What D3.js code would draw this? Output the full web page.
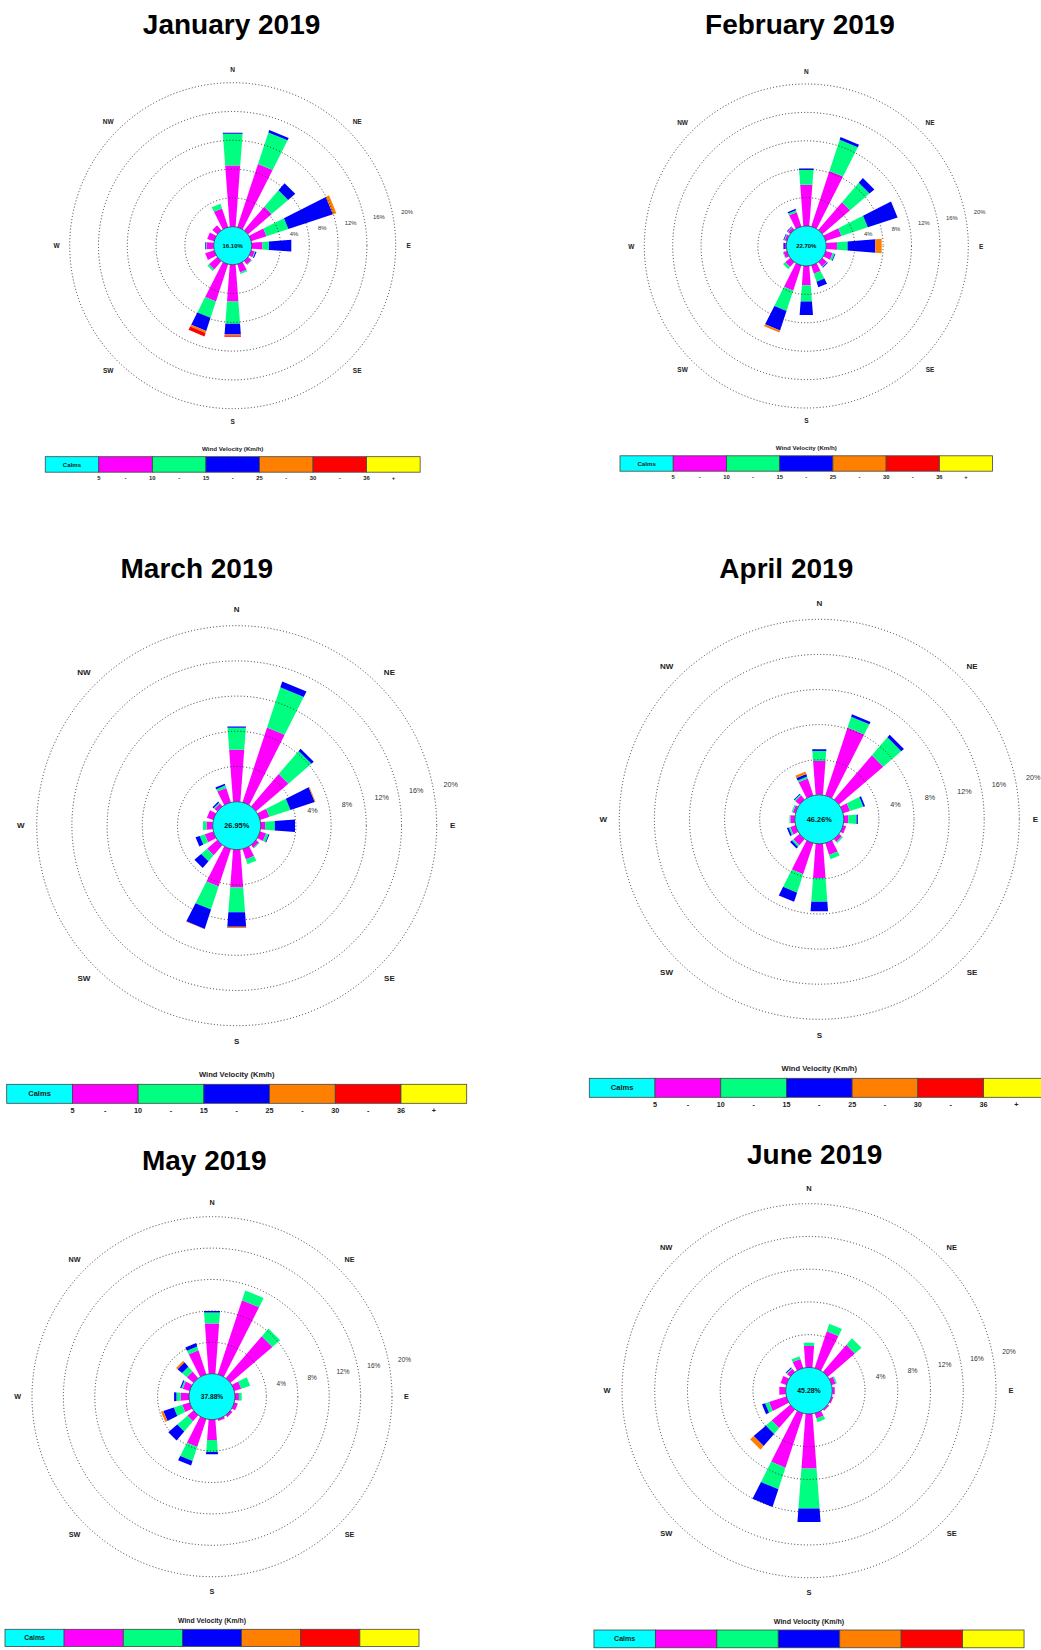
<!DOCTYPE html>
<html><head><meta charset="utf-8">
<script src="https://cdn.jsdelivr.net/npm/d3@7"></script>
<style>body{margin:0;background:#fff;} text{font-family:"Liberation Sans",Arial,sans-serif;}</style>
</head><body><svg id="chart" width="1041" height="1650"></svg>
<script>
// ---------- DATA ----------
const directions = ["N","NNE","NE","ENE","E","ESE","SE","SSE","S","SSW","SW","WSW","W","WNW","NW","NNW"];
const speedClasses = ["5 - 10","10 - 15","15 - 25","25 - 30","30 - 36","36 +"];
const legendTickLabels = ["5","-","10","-","15","-","25","-","30","-","36","+"];
const ringTicks = [4, 8, 12, 16, 20];
const compassLabels = ["N","NE","E","SE","S","SW","W","NW"];
const monthTitles = ["January 2019","February 2019","March 2019","April 2019","May 2019","June 2019"];
const calmPercents = [16.10, 22.70, 26.95, 46.26, 37.88, 45.28];

// per direction: frequency (%) of each speed class [5-10, 10-15, 15-25, 25-30, 30-36, 36+]
const jan2019 = [[8.5,4.4,0.15],[9.2,4.6,0.35],[4.3,3.0,1.3],[2.2,3.2,6.5,0.5],[1.5,0.9,3.1],[0.5,0.1,0.15],[0.6,0.1],[1.2,0.2],
  [5.1,3.1,1.5,0.15,0.15],[5.4,2.4,1.9,0.3,0.5],[1.5,0.3],[1.3],[1.0,0.1,0.1],[1.0],[0.9],[2.7,0.7]];
const feb2019 = [[5.8,2.1,0.2],[8.2,4.6,0.4],[5.1,3.6,0.9],[2.3,3.9,4.4],[1.5,1.5,3.9,0.9],[1.0,0.3,0.1],[0.8,0.1,0.1],[1.2,1.2,0.8],
  [2.7,2.3,1.9],[3.7,3.0,2.9,0.3],[0.9,0.4],[0.5,0.1],[0.2,0,0.2],[0.3,0.1,0.1],[0.4,0.1,0.1],[2.1,0.3,0.2]];
const mar2019 = [[5.9,2.5,0.15],[8.9,4.8,0.7],[4.8,3.45,0.35],[1.1,2.5,2.9,0.1],[0.5,1.1,2.3],[0.7,0.3,0.1],[0.4,0.1],[1.2,0.6],
  [4.3,2.8,1.65,0.15],[4.45,2.75,2.3,0.05],[1.5,0.9,1.0],[1.0,0.6,0.5],[0.7,0.4],[0.75],[0.4,0.15,0.15],[1.7,0.3,0.2]];
const apr2019 = [[3.85,1.15,0.2],[8.1,1.3,0.3],[6.6,2.7,0.4],[0.8,1.6,0.2],[0.5,0.95,0.15],[0.35],[0.4,0.15],[1.4,0.5],
  [3.9,2.7,1.1],[3.7,2.2,1.1],[0.9,0.25,0.25],[0.6,0.2,0.2],[0.5,0.1],[0.3,0.15],[0.6,0.15,0.1],[2.0,0.25,0.3,0.3]];
const may2019 = [[6.4,1.4,0.2],[9.9,1.3],[7.0,1.3],[0.9,1.2],[0.5,0.35],[0.45],[0.3],[0.25],
  [2.6,1.5,0.3],[3.7,1.9,0.6],[1.0,1.7,1.5],[0.97,1.13,1.4,0.3],[1.06,0.54,0.3],[0.9,0.2,0.16],[1.1,0.8,0.76,0.24],[3.2,0.5,0.45]];
const jun2019 = [[2.6,0.4],[4.7,0.95],[4.35,1.05],[0.5,0.15],[0.3],[0.2],[0.2],[0.65,0.45],
  [6.65,4.9,1.65],[6.95,2.75,2.3],[2.97,0.93,1.96,0.57],[2.2,0.5,0.4],[0.78],[0.73],[0.5,0.12,0.1],[1.15,0.35]];
const monthData = [jan2019, feb2019, mar2019, apr2019, may2019, jun2019];

// ---------- STYLE / LAYOUT ----------
const classColors = ["#FF00FF","#00FF80","#0000FF","#FF8000","#FF0000","#FFFF00"];
const calmColor = "#00FFFF";
const panels = [
  {cx:232.7, cy:245.7, R:163, r0:19,   tx:231.6, ty:33.5, ly:456.7},
  {cx:806.3, cy:246,   R:162, r0:20,   tx:800,   ty:33.5, ly:455.8},
  {cx:236.7, cy:825.7, R:200, r0:24,   tx:196.8, ty:577.5, ly:1084.3},
  {cx:819.3, cy:819.3, R:200, r0:24.5, tx:786.3, ty:577.5, ly:1078.3},
  {cx:212,   cy:1396.7,R:180, r0:23,   tx:204.2, ty:1170, ly:1629.3},
  {cx:809,   cy:1390.7,R:187, r0:23.3, tx:814.7, ty:1164, ly:1630}
];

const svg = d3.select("#chart");
const H = 1650;
const rad = d => d * Math.PI / 180;

panels.forEach((P, m) => {
  const g = svg.append("g");
  const rScale = d3.scaleLinear().domain([0, 20]).range([P.r0, P.R]);
  const angle = d3.scalePoint().domain(directions).range([0, 360 - 22.5]);
  const f = P.R / 163;
  const width = r => 3 * f + 0.15 * r;

  // title
  g.append("text").attr("x", P.tx).attr("y", P.ty).attr("text-anchor", "middle")
    .attr("font-size", 28).attr("font-weight", "bold").attr("fill", "#000").text(monthTitles[m]);

  // petals
  const line = d3.line();
  const data = monthData[m];
  const segs = [];
  directions.forEach((dir, i) => {
    let cum = 0;
    (data[i] || []).forEach((v, c) => {
      if (v > 0) segs.push({dir, c, p1: cum, p2: cum + v});
      cum += v;
    });
  });
  g.append("g").selectAll("path").data(segs).join("path")
    .attr("d", s => {
      const a = rad(angle(s.dir));
      const ux = Math.sin(a), uy = -Math.cos(a), vx = Math.cos(a), vy = Math.sin(a);
      const r1 = rScale(s.p1), r2 = rScale(s.p2);
      const w1 = width(r1) / 2, w2 = width(r2) / 2;
      const pts = [
        [P.cx + r1 * ux - w1 * vx, P.cy + r1 * uy - w1 * vy],
        [P.cx + r2 * ux - w2 * vx, P.cy + r2 * uy - w2 * vy],
        [P.cx + r2 * ux + w2 * vx, P.cy + r2 * uy + w2 * vy],
        [P.cx + r1 * ux + w1 * vx, P.cy + r1 * uy + w1 * vy]
      ];
      return line(pts) + "Z";
    })
    .attr("fill", s => classColors[s.c]);

  // rings
  g.append("g").selectAll("circle").data(ringTicks).join("circle")
    .attr("cx", P.cx).attr("cy", P.cy).attr("r", t => rScale(t))
    .attr("fill", "none").attr("stroke", "#222").attr("stroke-width", 0.9)
    .attr("stroke-dasharray", "1,2.2");

  // ring labels
  const la = rad(11);
  g.append("g").selectAll("text").data(ringTicks).join("text")
    .attr("x", t => P.cx + (rScale(t) + 0.09 * P.R) * Math.cos(la))
    .attr("y", t => P.cy - (rScale(t) + 0.09 * P.R) * Math.sin(la))
    .attr("text-anchor", "middle").attr("dominant-baseline", "central")
    .attr("font-size", 0.036 * P.R).attr("fill", "#333").text(t => t + "%");

  // compass labels
  g.append("g").selectAll("text").data(compassLabels).join("text")
    .attr("x", (d, i) => P.cx + (P.R * 1.08) * Math.sin(rad(i * 45)))
    .attr("y", (d, i) => P.cy - (P.R * 1.08) * Math.cos(rad(i * 45)))
    .attr("text-anchor", "middle").attr("dominant-baseline", "central")
    .attr("font-size", 0.04 * P.R).attr("font-weight", "bold").attr("fill", "#222").text(d => d);

  // calm circle
  g.append("circle").attr("cx", P.cx).attr("cy", P.cy).attr("r", P.r0)
    .attr("fill", calmColor).attr("stroke", "#333").attr("stroke-width", 0.8);
  g.append("text").attr("x", P.cx).attr("y", P.cy).attr("text-anchor", "middle")
    .attr("dominant-baseline", "central").attr("font-size", 0.037 * P.R).attr("font-weight", "bold")
    .attr("fill", "#111").text(calmPercents[m].toFixed(2) + "%");

  // legend
  const lw = 2.3 * P.R, lh = 0.095 * P.R, lx = P.cx - lw / 2;
  const boxes = ["Calms"].concat(speedClasses);
  const bx = d3.scaleBand().domain(d3.range(boxes.length)).range([lx, lx + lw]);
  const fs = 0.038 * P.R;
  g.append("text").attr("x", P.cx).attr("y", P.ly - fs * 0.9).attr("text-anchor", "middle")
    .attr("font-size", fs).attr("font-weight", "bold").attr("fill", "#222").text("Wind Velocity (Km/h)");
  g.append("g").selectAll("rect").data(boxes).join("rect")
    .attr("x", (d, i) => bx(i)).attr("y", P.ly).attr("width", bx.bandwidth()).attr("height", lh)
    .attr("fill", (d, i) => i === 0 ? calmColor : classColors[i - 1])
    .attr("stroke", "#444").attr("stroke-width", 0.8);
  g.append("text").attr("x", bx(0) + bx.bandwidth() / 2).attr("y", P.ly + lh / 2)
    .attr("text-anchor", "middle").attr("dominant-baseline", "central")
    .attr("font-size", fs).attr("font-weight", "bold").attr("fill", "#222").text("Calms");
  const tickY = P.ly + lh + fs * 0.9;
  if (tickY + fs * 0.5 < H) {
    g.append("g").selectAll("text").data(legendTickLabels).join("text")
      .attr("x", (d, i) => lx + (1 + i * 0.5) * bx.bandwidth())
      .attr("y", tickY).attr("text-anchor", "middle").attr("dominant-baseline", "central")
      .attr("font-size", fs * 0.95).attr("font-weight", "bold").attr("fill", "#222").text(d => d);
  }
});
</script></body></html>
